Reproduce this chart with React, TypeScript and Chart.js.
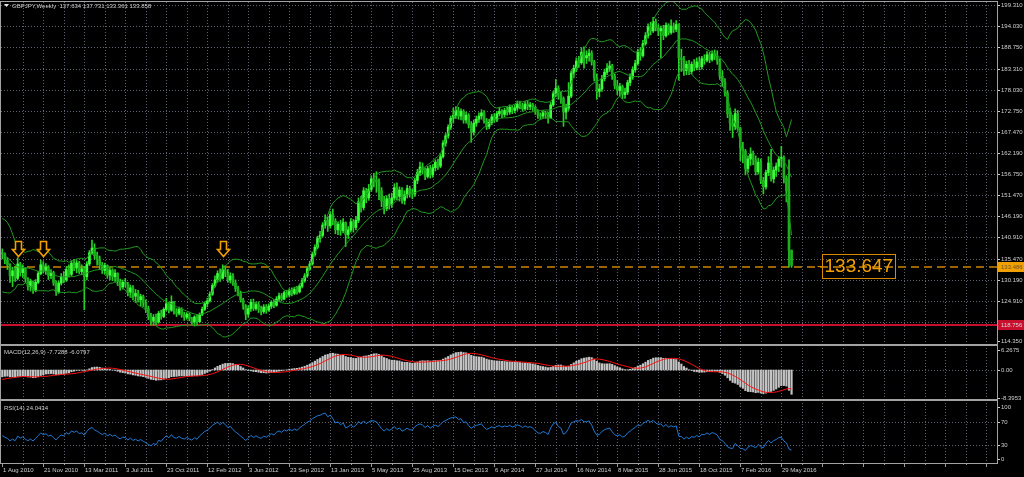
import React, { useEffect, useRef } from "react";
import { Chart, registerables } from "chart.js";
Chart.register(...registerables);

// ---------------- data ----------------
// weeks before the visible range, only used to warm up the indicators
const preCloses = [
  148.5, 147.0, 146.0, 144.0, 142.5, 141.0, 140.2, 136.8, 135.4, 137.2,
  137.6, 139.8, 141.3, 143.6, 144.6, 143.8, 142.6, 136.4, 135.0, 128.4,
  130.6, 133.0, 131.6, 135.0, 135.6, 132.6, 134.0, 133.8, 132.6, 137.0,
];
const firstOpen = 137.0;

const closes = [
  136.8, 135.2, 134.0, 131.2, 132.5, 130.6, 134.2, 132.0, 133.1, 130.5,
  128.6, 129.8, 127.6, 129.6, 131.8, 134.0, 132.6, 133.4, 131.3, 132.0,
  129.4, 127.2, 129.4, 131.0, 130.2, 132.8, 131.6, 134.4, 133.2, 134.5,
  132.3, 133.0, 131.0, 134.2, 137.0, 138.2, 136.3, 135.4, 134.0, 132.6,
  133.8, 131.4, 132.6, 131.0, 131.9, 129.8, 128.4, 129.6, 129.1, 127.1,
  128.2, 126.1, 126.8, 125.2, 126.0, 124.4, 123.0, 121.0, 119.8, 120.8,
  119.6, 121.8, 121.0, 122.8, 124.2, 122.6, 124.6, 122.2, 121.8, 122.8,
  121.4, 120.8, 121.6, 120.4, 119.6, 120.9, 119.7, 121.5, 122.8, 124.2,
  125.0, 126.6, 128.8, 130.2, 131.8, 130.6, 132.8, 131.8, 130.2, 131.2,
  129.4, 128.0, 126.8, 125.2, 123.6, 121.6, 123.0, 124.6, 123.0, 124.0,
  122.8, 122.2, 123.4, 122.6, 123.6, 124.6, 123.8, 125.4, 126.2, 125.4,
  127.0, 126.4, 127.6, 126.8, 127.8, 127.2, 128.6, 130.0, 131.2, 133.0,
  134.2, 136.6, 138.4, 140.6, 141.4, 144.0, 145.2, 143.8, 146.6, 145.0,
  142.8, 144.2, 142.6, 144.6, 141.6, 142.8, 144.8, 143.4, 145.2, 149.8,
  148.4, 152.6, 150.8, 153.0, 155.6, 155.3, 154.8, 152.6, 150.0, 148.2,
  150.6, 149.2, 150.8, 153.4, 151.2, 152.8, 150.2, 151.6, 153.2, 152.0,
  151.8, 155.2, 157.2, 158.6, 157.8, 156.2, 158.2, 156.6, 158.4, 159.8,
  158.8, 161.2, 164.6, 166.4, 168.6, 170.8, 171.6, 172.8, 171.4, 172.6,
  170.4, 171.6, 169.2, 167.4, 169.6, 170.6, 171.4, 172.2, 170.2, 168.8,
  169.8, 171.2, 170.4, 172.0, 172.6, 171.8, 172.8, 172.4, 173.6, 172.8,
  173.4, 174.4, 174.0, 173.2, 174.4, 173.8, 174.2, 173.6, 172.6, 171.6,
  171.4, 172.2, 171.8, 171.0, 174.2, 177.0, 178.4, 176.6, 175.8, 172.4,
  173.4, 176.4, 182.2, 183.4, 185.2, 184.8, 187.4, 186.0, 186.6, 187.2,
  185.0, 181.0, 177.6, 178.2, 180.8, 182.4, 183.4, 184.0, 181.4, 179.0,
  177.8, 178.8, 176.8, 177.4, 179.8, 181.2, 183.0, 184.6, 187.4, 186.6,
  189.6, 191.6, 193.8, 192.8, 195.2, 193.6, 192.8, 193.4, 191.6, 194.2,
  192.4, 194.0, 193.2, 194.4, 186.0, 185.6, 182.8, 184.4, 182.6, 184.4,
  183.6, 185.0, 183.8, 185.8, 185.4, 186.8, 185.6, 187.0, 186.4, 185.2,
  181.4, 180.0, 177.2, 172.0, 169.6, 168.8, 172.0, 168.4, 163.4, 162.6,
  158.2, 160.6, 161.8, 160.4, 157.4, 159.8, 155.2, 153.6, 157.2, 159.6,
  155.6, 157.8, 158.8, 160.6, 161.0, 155.8, 152.6, 137.634, 133.858,
];

const highs = [
  138.0, 137.0, 135.8, 134.3, 133.4, 133.6, 135.8, 134.6, 134.0, 133.3,
  130.8, 130.4, 130.0, 130.3, 132.3, 135.2, 134.8, 134.3, 133.8, 132.8,
  132.4, 130.0, 129.9, 131.8, 132.3, 133.5, 134.0, 135.0, 135.4, 135.1,
  134.9, 134.0, 133.6, 134.8, 137.6, 140.2, 139.3, 137.2, 136.2, 134.6,
  134.4, 134.0, 133.2, 133.0, 132.8, 132.0, 130.4, 130.2, 130.6, 129.6,
  128.9, 128.8, 127.8, 127.6, 126.6, 126.4, 125.2, 123.6, 121.8, 121.5,
  121.6, 122.3, 122.6, 123.2, 125.6, 124.6, 126.2, 124.8, 123.0, 123.4,
  123.2, 122.1, 122.0, 121.9, 120.8, 121.2, 121.4, 121.9, 123.4, 124.6,
  125.6, 127.2, 129.3, 131.2, 132.5, 133.0, 134.0, 133.8, 132.8, 132.0,
  131.8, 130.2, 128.6, 127.4, 125.6, 124.0, 123.8, 125.3, 125.4, 124.6,
  124.7, 123.6, 124.0, 124.0, 124.2, 125.0, 125.2, 126.0, 126.9, 126.8,
  127.4, 127.6, 128.0, 128.2, 128.4, 128.6, 129.2, 130.6, 131.8, 133.5,
  134.9, 137.2, 139.0, 141.2, 142.4, 144.6, 146.6, 146.0, 147.4, 148.0,
  145.6, 144.8, 145.2, 145.6, 144.8, 143.6, 145.6, 145.4, 146.2, 150.8,
  151.2, 153.4, 153.2, 154.2, 156.4, 157.0, 157.4, 155.6, 153.4, 151.2,
  151.4, 151.8, 152.0, 154.4, 154.6, 153.6, 153.4, 152.6, 154.0, 153.8,
  153.0, 155.8, 158.0, 159.8, 159.6, 158.4, 158.8, 159.0, 159.2, 160.4,
  160.6, 161.8, 165.2, 167.0, 169.2, 171.4, 173.4, 173.8, 173.6, 173.2,
  173.0, 172.4, 172.0, 170.0, 170.4, 171.4, 172.2, 173.0, 172.8, 170.8,
  170.6, 171.8, 172.0, 172.6, 173.6, 173.0, 173.4, 173.6, 174.2, 174.0,
  174.2, 175.2, 175.0, 174.6, 175.0, 175.2, 174.8, 174.6, 174.0, 173.0,
  172.2, 172.8, 172.6, 172.4, 174.8, 177.6, 180.6, 179.0, 177.4, 176.2,
  174.4, 179.8, 182.8, 184.2, 186.0, 186.4, 188.6, 188.8, 187.8, 188.2,
  187.8, 185.4, 182.0, 179.4, 181.6, 183.2, 184.6, 185.2, 184.4, 182.0,
  180.4, 179.6, 179.2, 178.4, 180.4, 182.0, 183.8, 185.4, 188.2, 188.6,
  190.4, 192.4, 194.6, 195.0, 196.2, 195.8, 194.4, 194.0, 194.2, 194.8,
  194.6, 195.6, 194.8, 195.4, 194.6, 188.2, 186.4, 185.2, 185.4, 185.0,
  185.6, 186.0, 186.2, 186.4, 186.8, 187.6, 187.4, 187.8, 188.0, 187.8,
  185.8, 182.8, 180.8, 177.8, 173.4, 171.6, 173.2, 172.8, 168.6, 164.8,
  163.0, 161.4, 163.4, 162.6, 161.4, 160.8, 160.6, 156.0, 157.8, 161.2,
  163.0, 158.6, 159.6, 161.2, 163.8, 161.4, 156.4, 160.4, 137.731,
];

const lows = [
  135.5, 134.3, 132.8, 129.6, 128.5, 129.8, 130.2, 131.2, 130.8, 129.6,
  127.6, 127.4, 126.8, 127.2, 129.3, 131.5, 131.9, 131.6, 130.3, 130.5,
  128.8, 126.3, 126.8, 128.9, 129.5, 129.8, 131.0, 131.2, 132.5, 132.0,
  131.8, 131.5, 122.7, 130.2, 133.8, 136.6, 135.4, 133.9, 132.8, 131.8,
  131.6, 130.6, 130.2, 130.0, 129.8, 128.8, 127.6, 127.9, 128.4, 126.2,
  125.8, 125.2, 124.5, 124.6, 123.7, 123.5, 122.0, 120.2, 118.8, 118.8,
  118.9, 119.3, 120.3, 120.7, 122.4, 121.9, 122.3, 121.6, 121.0, 121.4,
  120.8, 120.0, 120.3, 119.9, 118.9, 118.6, 119.0, 119.4, 121.2, 122.5,
  123.4, 124.6, 126.3, 128.4, 129.6, 129.8, 130.4, 131.0, 129.6, 129.4,
  128.8, 127.3, 126.2, 124.6, 122.8, 120.2, 120.8, 122.3, 122.5, 122.6,
  122.0, 121.4, 121.8, 121.8, 122.3, 123.0, 123.2, 123.6, 124.8, 124.9,
  125.2, 125.8, 125.9, 126.2, 126.5, 126.6, 126.9, 128.2, 129.6, 130.8,
  132.6, 133.9, 136.2, 138.0, 139.6, 141.0, 143.2, 142.4, 143.2, 144.0,
  141.8, 141.6, 141.4, 142.0, 138.6, 140.6, 142.2, 142.2, 142.8, 144.6,
  147.2, 147.8, 149.6, 150.2, 152.4, 153.6, 152.2, 150.4, 148.6, 146.8,
  147.6, 148.0, 148.4, 150.2, 150.4, 150.0, 149.4, 149.2, 150.8, 151.0,
  150.6, 151.2, 154.4, 156.4, 156.8, 155.4, 155.8, 155.8, 156.0, 157.6,
  158.0, 158.4, 160.8, 163.8, 165.8, 168.0, 169.6, 170.8, 170.6, 170.4,
  169.6, 169.6, 168.4, 164.8, 166.6, 168.8, 169.8, 170.6, 169.6, 168.0,
  168.2, 169.2, 169.8, 170.0, 171.4, 171.0, 171.2, 171.6, 171.8, 172.0,
  172.2, 172.8, 173.2, 172.6, 172.8, 173.0, 173.0, 172.8, 171.8, 170.8,
  170.6, 170.8, 170.8, 169.6, 170.8, 173.8, 176.2, 175.6, 174.6, 168.8,
  170.6, 172.8, 176.0, 181.0, 182.6, 183.6, 184.4, 183.4, 184.6, 185.2,
  184.2, 180.2, 175.6, 176.2, 177.6, 180.2, 181.8, 182.6, 180.6, 178.2,
  176.8, 176.4, 175.8, 175.8, 176.8, 179.0, 180.6, 182.4, 184.2, 185.4,
  186.2, 189.2, 191.0, 191.8, 192.4, 192.8, 191.6, 186.0, 190.6, 191.2,
  191.8, 192.0, 192.4, 192.6, 180.4, 182.6, 181.6, 181.8, 181.8, 182.0,
  182.8, 183.0, 183.0, 183.2, 184.4, 185.0, 184.8, 185.2, 185.6, 184.4,
  180.6, 178.8, 176.4, 171.0, 167.8, 166.0, 168.0, 167.6, 160.2, 159.6,
  156.6, 157.2, 159.0, 159.2, 156.6, 156.8, 154.4, 151.8, 153.0, 156.4,
  155.0, 154.6, 156.2, 157.4, 158.6, 154.6, 149.8, 133.4, 133.361,
];

const dateLabels = [
  "1 Aug 2010", "21 Nov 2010", "13 Mar 2011", "3 Jul 2011", "23 Oct 2011",
  "12 Feb 2012", "3 Jun 2012", "23 Sep 2012", "13 Jan 2013", "5 May 2013",
  "25 Aug 2013", "15 Dec 2013", "6 Apr 2014", "27 Jul 2014", "16 Nov 2014",
  "8 Mar 2015", "28 Jun 2015", "18 Oct 2015", "7 Feb 2016", "29 May 2016",
];
const dateStep = 16; // bars between date labels
const gridStep = 8; // bars between vertical grid lines

const priceTicks = [
  199.31, 194.03, 188.75, 183.31, 178.03, 172.75, 167.47, 162.19, 156.75,
  151.47, 146.19, 140.91, 135.47, 130.19, 124.91, 119.63, 114.35,
];
const macdTicks = [6.2675, 0, -8.3953];
const macdTickText = ["6.2675", "0.00", "-8.3953"];
const rsiTicks = [100, 70, 30, 0];
const rsiLevels = [70, 30];

const arrowIdx = [6, 16, 86];
const arrowPrice = [136.0, 136.0, 136.0];
const orangeLevel = 133.486;
const redLevel = 118.756;
const tagIdx = 320;
const tagPrice = 133.647;

const titleMain = "GBPJPY,Weekly  137.634 137.731 133.361 133.858";
const titleMacd = "MACD(12,26,9) -7.7288 -6.0797";
const titleRsi = "RSI(14) 24.0434";

// ---------------- axis ranges ----------------
const X_MIN = -0.507;
const X_MAX = 388.17;
const P_MAX = 200.064;
const P_MIN = 114.091;
const M_MAX = 6.7257;
const M_MIN = -8.852;
const R_MAX = 102.06;
const R_MIN = -0.94;

// ---------------- colours ----------------
const BG = "#000000";
const GRID = "#5d6270";
const TEXT = "#cfcfcf";
const BULL = "#3cff3c";
const BEAR = "#1cb01c";
const WICK = "#26d026";
const BAND = "#1f9a1f";
const ORANGE = "#f2a000";
const ORANGE_LINE = "#9a6200";
const RED = "#c8102e";
const HIST = "#c4c4c4";
const SIGNAL = "#ff1010";
const RSI_COLOR = "#1f7ad6";

// ---------------- derived series ----------------
const all = preCloses.concat(closes);
const P = preCloses.length;
const idx = closes.map((_, i) => i);
const opens = closes.map((_, i) => (i === 0 ? firstOpen : closes[i - 1]));

const bbMid: number[] = [];
const bbUp: number[] = [];
const bbLo: number[] = [];
for (let k = P; k < all.length; k++) {
  const w = all.slice(k - 19, k + 1);
  const m = w.reduce((a, b) => a + b, 0) / 20;
  const sd = Math.sqrt(w.reduce((a, b) => a + (b - m) * (b - m), 0) / 20);
  bbMid.push(m);
  bbUp.push(m + 2 * sd);
  bbLo.push(m - 2 * sd);
}
function ema(src: number[], n: number) {
  const a = 2 / (n + 1);
  const out = [src[0]];
  for (let k = 1; k < src.length; k++) out.push(out[k - 1] + a * (src[k] - out[k - 1]));
  return out;
}
const e12 = ema(all, 12);
const e26 = ema(all, 26);
const macdAll = all.map((_, k) => e12[k] - e26[k]);
const sigAll = macdAll.map((_, k) =>
  k < 8 ? NaN : macdAll.slice(k - 8, k + 1).reduce((a, b) => a + b, 0) / 9
);
const rsiAll: number[] = all.map(() => NaN);
{
  let ag = 0;
  let al = 0;
  for (let k = 1; k <= 14; k++) {
    const d = all[k] - all[k - 1];
    if (d > 0) ag += d;
    else al -= d;
  }
  ag /= 14;
  al /= 14;
  rsiAll[14] = al === 0 ? 100 : 100 - 100 / (1 + ag / al);
  for (let k = 15; k < all.length; k++) {
    const d = all[k] - all[k - 1];
    ag = (ag * 13 + Math.max(d, 0)) / 14;
    al = (al * 13 + Math.max(-d, 0)) / 14;
    rsiAll[k] = al === 0 ? 100 : 100 - 100 / (1 + ag / al);
  }
}
const macd = macdAll.slice(P);
const signal = sigAll.slice(P);
const rsi = rsiAll.slice(P);

// ---------------- fonts ----------------
let SMALL = '6px "Liberation Sans", Arial, sans-serif';
let BIG = '19px "Liberation Sans", Arial, sans-serif';
function pickFonts() {
  const c = document.createElement("canvas").getContext("2d");
  if (!c) return;
  const s = "mmmmwwwwlli1234567890";
  c.font = "40px monospace";
  const w1 = c.measureText(s).width;
  c.font = '40px "Liberation Sans Narrow", monospace';
  const w2 = c.measureText(s).width;
  if (Math.abs(w1 - w2) > 0.5) {
    SMALL = '7px "Liberation Sans Narrow", "Liberation Sans", sans-serif';
    BIG = '23px "Liberation Sans Narrow", "Liberation Sans", sans-serif';
  }
}

// ---------------- drawing helpers ----------------
function dotted(ctx: CanvasRenderingContext2D, x1: number, y1: number, x2: number, y2: number) {
  ctx.save();
  ctx.strokeStyle = GRID;
  ctx.lineWidth = 1;
  ctx.setLineDash([1, 2]);
  ctx.beginPath();
  ctx.moveTo(x1, y1);
  ctx.lineTo(x2, y2);
  ctx.stroke();
  ctx.restore();
}
function vGrid(chart: any) {
  const { ctx, chartArea: a, scales } = chart;
  for (let v = 0; v <= X_MAX; v += gridStep) {
    const px = Math.round(scales.x.getPixelForValue(v)) + 0.5;
    if (px < a.left + 2 || px > a.right - 2) continue;
    dotted(ctx, px, a.top, px, a.bottom);
  }
}
function hGrid(chart: any, vals: number[]) {
  const { ctx, chartArea: a, scales } = chart;
  for (const v of vals) {
    const py = Math.round(scales.y.getPixelForValue(v)) + 0.5;
    if (py < a.top + 2 || py > a.bottom - 2) continue;
    dotted(ctx, a.left, py, a.right, py);
  }
}
function rightLabels(chart: any, vals: number[], texts: string[], pad: number) {
  const { ctx, chartArea: a, scales } = chart;
  ctx.save();
  ctx.font = SMALL;
  ctx.fillStyle = TEXT;
  ctx.textAlign = "left";
  ctx.textBaseline = "middle";
  vals.forEach((v, k) => {
    const y = scales.y.getPixelForValue(v);
    const yl = Math.min(Math.max(y, a.top + pad), a.bottom - pad);
    ctx.fillRect(a.right + 1, Math.round(yl), 2, 1);
    ctx.fillText(texts[k], a.right + 4, yl + 0.5);
  });
  ctx.restore();
}
function panelTitle(chart: any, text: string, x: number, y: number) {
  const { ctx } = chart;
  ctx.save();
  ctx.font = SMALL;
  ctx.fillStyle = TEXT;
  ctx.textAlign = "left";
  ctx.textBaseline = "middle";
  ctx.fillText(text, x, y);
  ctx.restore();
}
function axisBox(chart: any, value: number, text: string, bg: string, fg: string) {
  const { ctx, chartArea: a, scales } = chart;
  const y = Math.round(scales.y.getPixelForValue(value));
  ctx.save();
  ctx.fillStyle = bg;
  ctx.fillRect(a.right + 1, y - 5, 27, 10);
  ctx.font = SMALL;
  ctx.fillStyle = fg;
  ctx.textAlign = "left";
  ctx.textBaseline = "middle";
  ctx.fillText(text, a.right + 4, y + 0.5);
  ctx.restore();
}

const mainOverlay = {
  id: "mainOverlay",
  beforeDatasetsDraw(chart: any) {
    const { ctx, chartArea: a, scales } = chart;
    vGrid(chart);
    hGrid(chart, priceTicks);
    // red support line
    const yr = Math.round(scales.y.getPixelForValue(redLevel));
    ctx.save();
    ctx.fillStyle = RED;
    ctx.fillRect(a.left, yr - 1, a.right - a.left, 2);
    // orange dashed line
    const yo = Math.round(scales.y.getPixelForValue(orangeLevel));
    ctx.strokeStyle = ORANGE_LINE;
    ctx.lineWidth = 2;
    ctx.setLineDash([8, 5]);
    ctx.beginPath();
    ctx.moveTo(a.left, yo);
    ctx.lineTo(a.right, yo);
    ctx.stroke();
    ctx.restore();
  },
  afterDatasetsDraw(chart: any) {
    const { ctx, chartArea: a, scales } = chart;
    // arrows
    ctx.save();
    arrowIdx.forEach((ix, k) => {
      const x = Math.round(scales.x.getPixelForValue(ix)) + 0.5;
      const yt = Math.round(scales.y.getPixelForValue(arrowPrice[k])) + 0.5;
      ctx.beginPath();
      ctx.moveTo(x - 3, yt - 16);
      ctx.lineTo(x + 3, yt - 16);
      ctx.lineTo(x + 3, yt - 8);
      ctx.lineTo(x + 6, yt - 8);
      ctx.lineTo(x, yt - 1);
      ctx.lineTo(x - 6, yt - 8);
      ctx.lineTo(x - 3, yt - 8);
      ctx.closePath();
      ctx.fillStyle = BG;
      ctx.fill();
      ctx.strokeStyle = ORANGE;
      ctx.lineWidth = 1.6;
      ctx.stroke();
    });
    // price tag
    const tx = Math.round(scales.x.getPixelForValue(tagIdx)) + 0.5;
    const ty = Math.round(scales.y.getPixelForValue(tagPrice));
    ctx.font = BIG;
    const tw = ctx.measureText("133.647").width;
    ctx.strokeStyle = "#d98a00";
    ctx.lineWidth = 1;
    ctx.strokeRect(tx, ty - 12 + 0.5, Math.round(tw) + 4, 24);
    ctx.beginPath();
    ctx.moveTo(tx - 5, ty + 0.5);
    ctx.lineTo(tx, ty + 0.5);
    ctx.stroke();
    ctx.fillStyle = ORANGE;
    ctx.textAlign = "left";
    ctx.textBaseline = "middle";
    ctx.fillText(tagPrice.toFixed(3), tx + 2, ty + 1);
    ctx.restore();

    rightLabels(chart, priceTicks, priceTicks.map((v) => v.toFixed(3)), 3);
    axisBox(chart, orangeLevel, orangeLevel.toFixed(3), ORANGE, "#6a5230");
    axisBox(chart, redLevel, redLevel.toFixed(3), RED, "#d8d8d8");

    // title
    ctx.save();
    ctx.fillStyle = "#e6e6e6";
    ctx.beginPath();
    ctx.moveTo(4, 4);
    ctx.lineTo(9, 4);
    ctx.lineTo(6.5, 7);
    ctx.closePath();
    ctx.fill();
    ctx.restore();
    panelTitle(chart, titleMain, 12, a.top + 4);
  },
};

const macdOverlay = {
  id: "macdOverlay",
  beforeDatasetsDraw(chart: any) {
    vGrid(chart);
    hGrid(chart, [0]);
  },
  afterDatasetsDraw(chart: any) {
    rightLabels(chart, macdTicks, macdTickText, 1);
    panelTitle(chart, titleMacd, 4, chart.chartArea.top + 4);
  },
};

const rsiOverlay = {
  id: "rsiOverlay",
  beforeDatasetsDraw(chart: any) {
    vGrid(chart);
    hGrid(chart, rsiLevels);
  },
  afterDatasetsDraw(chart: any) {
    const { ctx, chartArea: a, scales } = chart;
    rightLabels(chart, rsiTicks, rsiTicks.map((v) => String(v)), 4);
    panelTitle(chart, titleRsi, 4, a.top + 5);
    // time axis
    ctx.save();
    ctx.fillStyle = "#9a9a9a";
    for (let v = 0; v <= X_MAX; v += gridStep) {
      const px = Math.round(scales.x.getPixelForValue(v));
      if (px > a.right - 2) continue;
      ctx.fillRect(px, a.bottom, 1, v % dateStep === 0 ? 4 : 2);
    }
    ctx.font = SMALL;
    ctx.fillStyle = TEXT;
    ctx.textAlign = "left";
    ctx.textBaseline = "middle";
    dateLabels.forEach((t, k) => {
      const px = scales.x.getPixelForValue(k * dateStep);
      ctx.fillText(t, Math.round(px) + 1, a.bottom + 7);
    });
    ctx.restore();
  },
};

const baseOptions = (pad: any, yMin: number, yMax: number) => ({
  responsive: false,
  animation: false as const,
  devicePixelRatio: 1,
  events: [] as any[],
  layout: { padding: pad },
  scales: {
    x: { type: "linear" as const, display: false, min: X_MIN, max: X_MAX, offset: false },
    y: { type: "linear" as const, display: false, min: yMin, max: yMax },
  },
  plugins: { legend: { display: false }, tooltip: { enabled: false } },
});

const linePts = (arr: number[]) => idx.map((i) => ({ x: i, y: arr[i] }));

function mainConfig(): any {
  const col = idx.map((i) => (closes[i] >= opens[i] ? BULL : BEAR));
  return {
    type: "bar",
    data: {
      datasets: [
        { type: "line", data: linePts(bbUp), borderColor: BAND, borderWidth: 1, pointRadius: 0, order: 0 },
        { type: "line", data: linePts(bbMid), borderColor: BAND, borderWidth: 1, pointRadius: 0, order: 0 },
        { type: "line", data: linePts(bbLo), borderColor: BAND, borderWidth: 1, pointRadius: 0, order: 0 },
        {
          type: "bar",
          data: idx.map((i) => ({ x: i, y: [lows[i], highs[i]] })),
          backgroundColor: WICK,
          barThickness: 1,
          grouped: false,
          order: 2,
        },
        {
          type: "bar",
          data: idx.map((i) => ({ x: i, y: [opens[i], closes[i]] })),
          backgroundColor: col,
          barThickness: 2,
          minBarLength: 1,
          grouped: false,
          order: 1,
        },
      ],
    },
    options: baseOptions({ left: 1, right: 27, top: 2, bottom: 1 }, P_MIN, P_MAX),
    plugins: [mainOverlay],
  };
}

function macdConfig(): any {
  return {
    type: "bar",
    data: {
      datasets: [
        { type: "line", data: linePts(signal), borderColor: SIGNAL, borderWidth: 1, pointRadius: 0, order: 0 },
        {
          type: "bar",
          data: idx.map((i) => ({ x: i, y: macd[i] })),
          backgroundColor: HIST,
          barThickness: 1.5,
          grouped: false,
          order: 1,
        },
      ],
    },
    options: baseOptions({ left: 1, right: 27, top: 1, bottom: 1 }, M_MIN, M_MAX),
    plugins: [macdOverlay],
  };
}

function rsiConfig(): any {
  return {
    type: "line",
    data: {
      datasets: [
        { type: "line", data: linePts(rsi), borderColor: RSI_COLOR, borderWidth: 1, pointRadius: 0 },
      ],
    },
    options: baseOptions({ left: 1, right: 27, top: 1, bottom: 14 }, R_MIN, R_MAX),
    plugins: [rsiOverlay],
  };
}

const line = (s: any) => <div style={{ position: "absolute", background: "#a2a2a2", ...s }} />;

export default function App() {
  const mainRef = useRef<HTMLCanvasElement>(null);
  const macdRef = useRef<HTMLCanvasElement>(null);
  const rsiRef = useRef<HTMLCanvasElement>(null);

  useEffect(() => {
    document.body.style.margin = "0";
    document.body.style.background = BG;
    pickFonts();
    const charts = [
      new Chart(mainRef.current!, mainConfig()),
      new Chart(macdRef.current!, macdConfig()),
      new Chart(rsiRef.current!, rsiConfig()),
    ];
    return () => charts.forEach((c) => c.destroy());
  }, []);

  return (
    <div style={{ position: "fixed", left: 0, top: 0, width: 1024, height: 477, background: BG, overflow: "hidden" }}>
      <canvas ref={mainRef} width={1024} height={345} style={{ position: "absolute", left: 0, top: 0 }} />
      <canvas ref={macdRef} width={1024} height={53} style={{ position: "absolute", left: 0, top: 347 }} />
      <canvas ref={rsiRef} width={1024} height={75} style={{ position: "absolute", left: 0, top: 402 }} />
      {line({ left: 0, top: 1, width: 998, height: 1 })}
      {line({ left: 0, top: 1, width: 1, height: 463 })}
      {line({ left: 997, top: 1, width: 1, height: 463 })}
      {line({ left: 0, top: 344, width: 998, height: 2 })}
      {line({ left: 0, top: 399, width: 998, height: 2 })}
      {line({ left: 0, top: 463, width: 998, height: 1 })}
    </div>
  );
}
